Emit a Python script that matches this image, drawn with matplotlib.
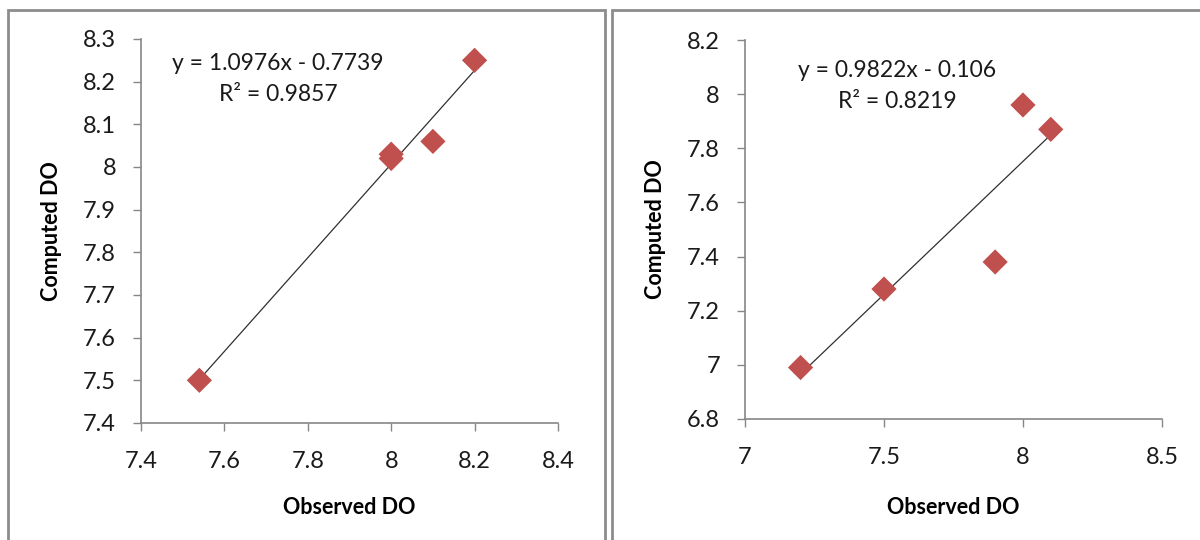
import matplotlib
matplotlib.use("Agg")
import matplotlib.pyplot as plt
import numpy as np
from matplotlib.patches import Rectangle
from matplotlib.ticker import MultipleLocator

# ── data ──────────────────────────────────────────────────────────────────────
obs_a = [7.54, 8.00, 8.00, 8.10, 8.20]
comp_a = [7.50, 8.02, 8.03, 8.06, 8.25]
fit_a = (1.0976, -0.7739)
r2_a = 0.9857
eq_a = "y = 1.0976x - 0.7739\nR² = 0.9857"

obs_b = [7.20, 7.50, 7.90, 8.00, 8.10]
comp_b = [6.99, 7.28, 7.38, 7.96, 7.87]
fit_b = (0.9822, -0.106)
r2_b = 0.8219
eq_b = "y = 0.9822x - 0.106\nR² = 0.8219"

# ── style ─────────────────────────────────────────────────────────────────────
plt.rcParams.update({
    "font.family": ["Lato", "DejaVu Sans"],
    "axes.edgecolor": "#868686",
    "xtick.color": "#868686",
    "ytick.color": "#868686",
    "xtick.labelcolor": "#1a1a1a",
    "ytick.labelcolor": "#1a1a1a",
    "xtick.labelsize": 17,
    "ytick.labelsize": 17,
})
MARKER = dict(marker="D", s=165, color="#c0504d", edgecolors="none", zorder=3)

fig = plt.figure(figsize=(12, 5.4), dpi=100)

# panel frames (Excel chart-area borders)
for x0, x1 in ((8, 605), (612, 1260)):
    fig.add_artist(Rectangle((x0 / 1200, -0.1), (x1 - x0) / 1200, 1.1 - 10 / 540,
                             transform=fig.transFigure, fill=False,
                             edgecolor="#8c8c8c", lw=2.0))


def panel(rect, xs, ys, fit, xlim, ylim, xstep, ystep, eq_xy, eq_text):
    ax = fig.add_axes(rect)
    ax.scatter(xs, ys, **MARKER)
    xf = np.array([min(xs), max(xs)])
    ax.plot(xf, fit[0] * xf + fit[1], color="#303030", lw=0.9, zorder=2)
    ax.set_xlim(*xlim)
    ax.set_ylim(*ylim)
    ax.xaxis.set_major_locator(MultipleLocator(xstep))
    ax.yaxis.set_major_locator(MultipleLocator(ystep))
    ax.xaxis.set_major_formatter(lambda v, p: f"{v:g}")
    ax.yaxis.set_major_formatter(lambda v, p: f"{v:g}")
    ax.tick_params(direction="out", length=6, width=1)
    ax.tick_params(axis="y", pad=12)
    ax.tick_params(axis="x", pad=14)
    for side in ("top", "right"):
        ax.spines[side].set_visible(False)
    for side in ("left", "bottom"):
        ax.spines[side].set_linewidth(1.2)
    ax.set_xlabel("Observed DO", fontsize=15.5, fontweight="bold")
    ax.set_ylabel("Computed DO", fontsize=15.5, fontweight="bold")
    ax.text(*eq_xy, eq_text, ha="center", va="center", fontsize=16.5,
            linespacing=1.6, color="#1a1a1a")
    return ax


ax1 = panel([0.1175, 0.2167, 0.3475, 0.7111], obs_a, comp_a, fit_a,
            (7.4, 8.4), (7.4, 8.3), 0.2, 0.1, (7.729, 8.207), eq_a)
ax1.xaxis.set_label_coords(0.5, -0.193)
ax1.yaxis.set_label_coords(-0.189, 0.5)

ax2 = panel([0.6208, 0.2241, 0.3475, 0.7018], obs_b, comp_b, fit_b,
            (7.0, 8.5), (6.8, 8.2), 0.5, 0.2, (7.547, 8.03), eq_b)
ax2.xaxis.set_label_coords(0.5, -0.206)
ax2.yaxis.set_label_coords(-0.189, 0.5)

fig.savefig("out.png", dpi=100)
